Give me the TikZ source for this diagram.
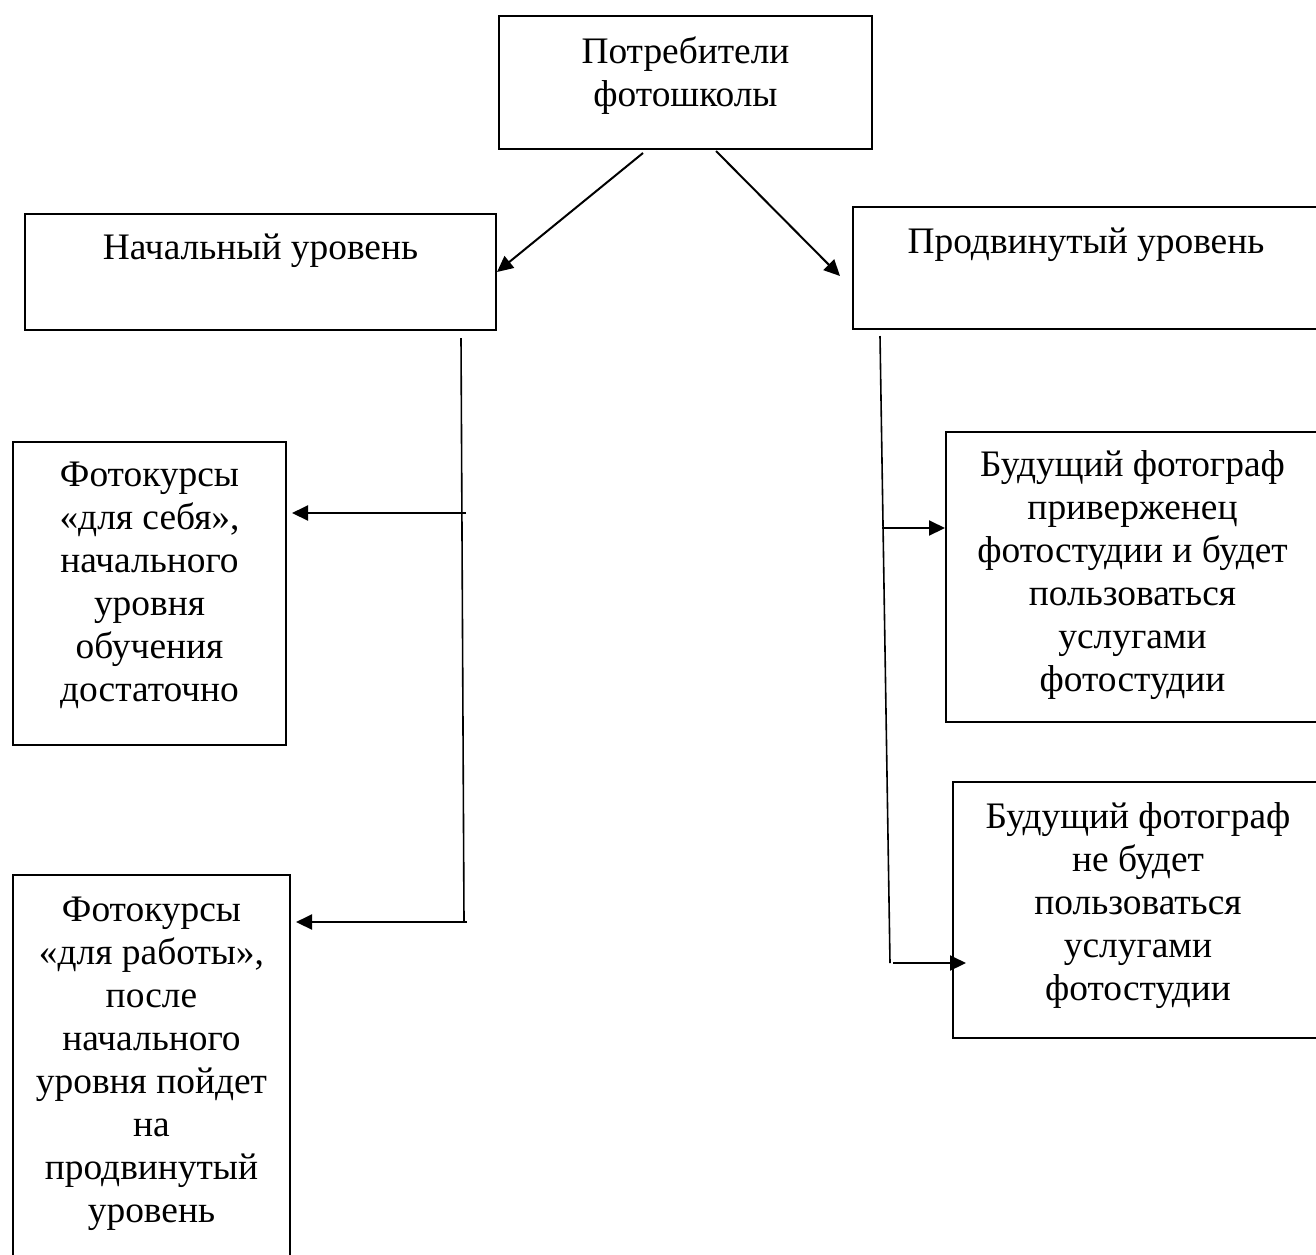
\documentclass[tikz,border=0pt]{standalone}
\usepackage{fontspec}
\setmainfont{Liberation Serif}
\usepackage{tikz}
\usetikzlibrary{arrows.meta}

\begin{document}
\begin{tikzpicture}[
    x=0.5pt, y=-0.5pt,
    box/.style={rectangle, draw=black, line width=1pt, inner sep=0pt,
        align=center, anchor=north west, font=\fontsize{18.7}{21.5}\selectfont},
    link/.style={line width=1pt, -{Triangle[length=8pt,width=7.5pt]}},
    trunk/.style={line width=0.8pt}
    ]
    \useasboundingbox (0,0) rectangle (1316,1254);

    \node (Consumers) [box, minimum width=186.5pt, text height=45pt, text depth=21.5pt]
        at (498,15) {Потребители\\фотошколы};
    \node (Basic) [box, minimum width=235.5pt, text height=22.5pt, text depth=35.5pt]
        at (24,213) {Начальный уровень};
    \node (Advanced) [box, minimum width=233pt, text height=23pt, text depth=38pt]
        at (852,206) {Продвинутый уровень};

    \node (SelfCourse) [box, minimum width=136.5pt, text height=129.5pt, text depth=22pt]
        at (12,441) {Фотокурсы\\«для себя»,\\начального\\уровня\\обучения\\достаточно};
    \node (WorkCourse) [box, minimum width=138.5pt, text height=173.5pt, text depth=20.5pt]
        at (12,874) {Фотокурсы\\«для работы»,\\после\\начального\\уровня пойдет\\на\\продвинутый\\уровень};
    \node (Loyal) [box, minimum width=186.5pt, text height=129.5pt, text depth=15.5pt]
        at (945,431) {Будущий фотограф\\приверженец\\фотостудии и будет\\пользоваться\\услугами\\фотостудии};
    \node (NotLoyal) [box, minimum width=185pt, text height=109pt, text depth=19pt]
        at (952,781) {Будущий фотограф\\не будет\\пользоваться\\услугами\\фотостудии};

    % top level
    \coordinate (ToBasic) at (643,153);
    \coordinate (ToAdvanced) at (716,151);
    \draw [link] (ToBasic) -- (Basic.east);
    \draw [link] (ToAdvanced) -- ([xshift=-6pt,yshift=-4pt]Advanced.west);

    % left branch
    \coordinate (LeftTop) at (461,338);
    \coordinate (LeftBot) at (464,922);
    \coordinate (SelfFork) at (466,513);
    \draw [trunk] (LeftTop) -- (LeftBot);
    \draw [link, shorten >=2.5pt] (SelfFork) -- (SelfFork -| SelfCourse.east);
    \draw [link, shorten >=2.5pt] ([xshift=1.5pt]LeftBot) -- (LeftBot -| WorkCourse.east);

    % right branch
    \coordinate (RightTop) at (880,336);
    \coordinate (RightBot) at (890,963);
    \coordinate (LoyalFork) at (882,528);
    \draw [trunk] (RightTop) -- (RightBot);
    \draw [link] (LoyalFork) -- (LoyalFork -| Loyal.west);
    \draw [link, shorten >=-7pt] ([xshift=1.5pt]RightBot) -- (RightBot -| NotLoyal.west);
\end{tikzpicture}
\end{document}
